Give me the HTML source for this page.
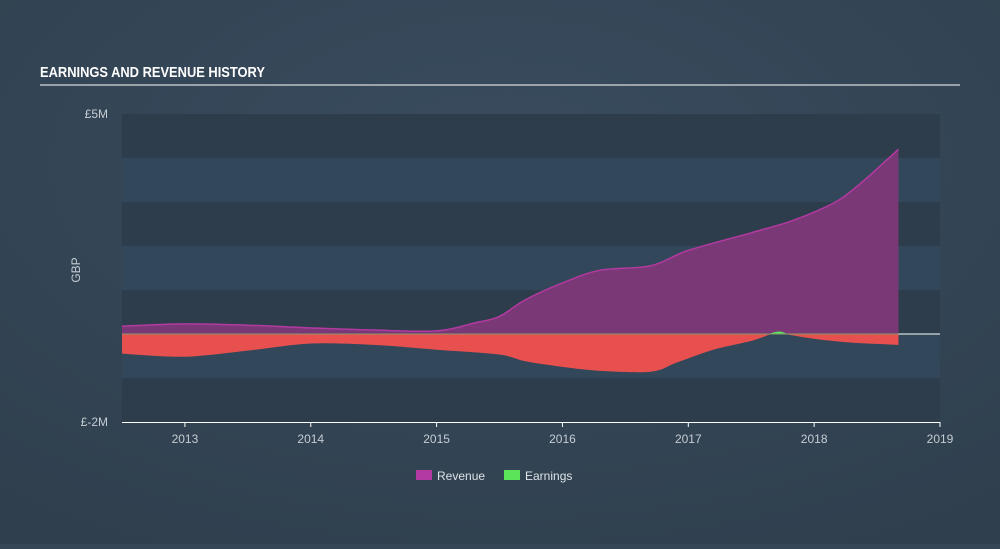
<!DOCTYPE html>
<html><head><meta charset="utf-8"><style>
body{margin:0;width:1000px;height:544px;background:#354656;font-family:"Liberation Sans",sans-serif;overflow:hidden}
svg text{font-family:"Liberation Sans",sans-serif}
</style></head><body>
<svg width="1000" height="544">
<defs><radialGradient id="bg" cx="50%" cy="30%" r="80%"><stop offset="0" stop-color="#394c5e"/><stop offset="1" stop-color="#2f3f4e"/></radialGradient>
<clipPath id="above"><rect x="0" y="0" width="1000" height="334"/></clipPath>
<clipPath id="below"><rect x="0" y="334" width="1000" height="210"/></clipPath></defs>
<rect width="1000" height="544" fill="url(#bg)"/>
<text x="40" y="77" fill="#fff" font-size="15" font-weight="bold" transform="translate(40 77) scale(0.86 1) translate(-40 -77)">EARNINGS AND REVENUE HISTORY</text>
<line x1="40" y1="85" x2="960" y2="85" stroke="#fff" stroke-width="1"/>
<g id="bands"></g>
<g id="series"></g>
<g id="axes"></g>
<text x="80" y="270" fill="#c5ccd3" font-size="12" transform="rotate(-90 80 270)" text-anchor="middle">GBP</text>
<g>
<rect x="416" y="470" width="16" height="10" fill="#b23aa0"/>
<text x="437" y="480" fill="#dde2e7" font-size="12">Revenue</text>
<rect x="504" y="470" width="16" height="10" fill="#5be35a"/>
<text x="525" y="480" fill="#dde2e7" font-size="12">Earnings</text>
</g>
</svg>
<script>
const revYears=[2012.5,2013,2013.5,2014,2014.5,2015,2015.3,2015.5,2015.7,2016,2016.3,2016.7,2017,2017.5,2017.8,2018,2018.2,2018.4,2018.67];
const revenue=[0.18,0.23,0.2,0.14,0.09,0.07,0.25,0.4,0.77,1.16,1.45,1.55,1.9,2.3,2.55,2.77,3.05,3.5,4.2];
const earnYears=[2012.5,2013,2013.5,2014,2014.5,2015,2015.5,2015.7,2016,2016.3,2016.7,2016.9,2017.2,2017.5,2017.7,2017.8,2018,2018.3,2018.67];
const earnings=[-0.43,-0.5,-0.36,-0.2,-0.23,-0.34,-0.45,-0.6,-0.73,-0.82,-0.84,-0.64,-0.34,-0.14,0.05,0,-0.09,-0.18,-0.23];
const xTicks=[2013,2014,2015,2016,2017,2018,2019];
const yTickVals=[5,-2];
const yTickLabels=["£5M","£-2M"];
const NS="http://www.w3.org/2000/svg";
const X0=122,X1=940,Y0=114,Y1=422,xmin=2012.5,xmax=2019,ymin=-2,ymax=5;
const xs=v=>X0+(v-xmin)/(xmax-xmin)*(X1-X0);
const ys=v=>Y1-(v-ymin)/(ymax-ymin)*(Y1-Y0);
function mk(t,a,p){const e=document.createElementNS(NS,t);for(const k in a)e.setAttribute(k,a[k]);p.appendChild(e);return e;}
const bands=document.getElementById('bands');
for(let v=ymin;v<ymax;v++){
 const r=mk('rect',{x:X0,y:ys(v+1),width:X1-X0,height:ys(v)-ys(v+1),fill:(v%2===0)?'#2e3d4b':'#33475a'},bands);
 
 
}
function smooth(pts){let d=`M${pts[0][0]},${pts[0][1]}`;const n=pts.length;
 for(let i=0;i<n-1;i++){const p0=pts[Math.max(i-1,0)],p1=pts[i],p2=pts[i+1],p3=pts[Math.min(i+2,n-1)];
 const c1=[p1[0]+(p2[0]-p0[0])/6,p1[1]+(p2[1]-p0[1])/6],c2=[p2[0]-(p3[0]-p1[0])/6,p2[1]-(p3[1]-p1[1])/6];
 d+=` C${c1[0]},${c1[1]} ${c2[0]},${c2[1]} ${p2[0]},${p2[1]}`;}return d;}
const g=document.getElementById('series');
const z=ys(0);
const rp=revYears.map((y,i)=>[xs(y),ys(revenue[i])]);
const ep=earnYears.map((y,i)=>[xs(y),ys(earnings[i])]);
const ra=mk('path',{d:smooth(rp)+` L${rp[rp.length-1][0]},${z} L${rp[0][0]},${z} Z`,fill:'#7a3877'},g);


const rl=mk('path',{d:smooth(rp),fill:'none',stroke:'#b23aa0','stroke-width':1.5},g);


const eArea=smooth(ep)+` L${ep[ep.length-1][0]},${z} L${ep[0][0]},${z} Z`;
const ea=mk('path',{d:eArea,fill:'#e8504f','clip-path':'url(#below)'},g);


const ea2=mk('path',{d:eArea,fill:'#5be35a','clip-path':'url(#above)'},g);


const el=mk('path',{d:smooth(ep),fill:'none',stroke:'#e8504f','stroke-width':1.5,'clip-path':'url(#below)'},g);


const zl=mk('line',{x1:X0,x2:X1,y1:z,y2:z,stroke:'#ffffff','stroke-width':1},g);


const eg=mk('line',{x1:X0,x2:xs(earnYears[earnYears.length-1]),y1:z,y2:z,stroke:'#8a9a6a','stroke-width':1},g);


const ax=document.getElementById('axes');
const xl=mk('line',{x1:X0,x2:X1,y1:Y1+0.5,y2:Y1+0.5,stroke:'#ffffff','stroke-width':1},ax);


xTicks.forEach(t=>{
 const tk=mk('line',{x1:xs(t),x2:xs(t),y1:Y1,y2:Y1+5,stroke:'#fff'},ax);
 
 
 const tx=mk('text',{x:xs(t),y:Y1+21,fill:'#c5ccd3','font-size':12,'text-anchor':'middle'},ax);
 tx.textContent=t;
 
 
});
yTickVals.forEach((v,i)=>{
 const tx=mk('text',{x:108,y:ys(v)+4,fill:'#c5ccd3','font-size':12,'text-anchor':'end'},ax);
 tx.textContent=yTickLabels[i];
 
 
});
</script>
</body></html>
